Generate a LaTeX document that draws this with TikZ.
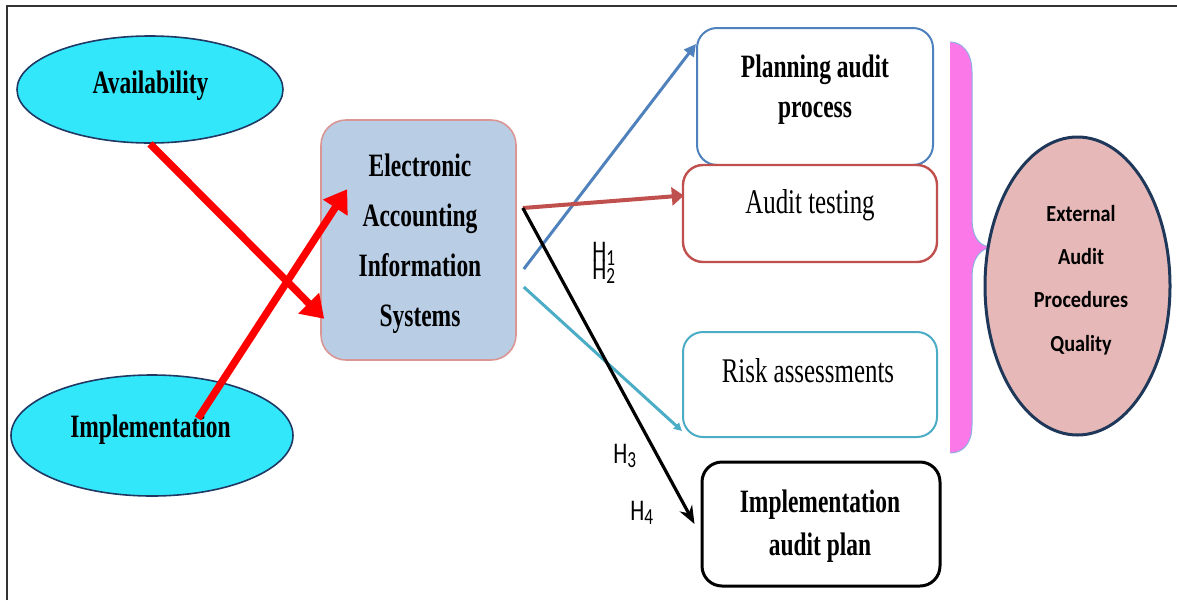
\documentclass[tikz,border=0pt]{standalone}
\usepackage{fontspec}
\usetikzlibrary{arrows.meta,shapes.geometric,calc}
\newfontfamily\tnr[FakeStretch=0.72]{Liberation Serif}
\newfontfamily\cbr[FakeStretch=0.88]{Carlito}
\newfontfamily\cbrn[FakeStretch=0.75]{Carlito}
\newcommand\hsub[1]{\raisebox{-2pt}{\fontsize{11.5}{11.5}\selectfont #1}}
\definecolor{cyanfill}{RGB}{51,231,250}
\definecolor{navy}{RGB}{31,56,100}
\definecolor{eaisfill}{RGB}{185,205,229}
\definecolor{eaisborder}{RGB}{217,150,148}
\definecolor{planblue}{RGB}{79,129,189}
\definecolor{testred}{RGB}{192,80,77}
\definecolor{riskcyan}{RGB}{75,172,198}
\definecolor{bracepink}{RGB}{250,120,232}
\definecolor{braceline}{RGB}{141,179,226}
\definecolor{extfill}{RGB}{230,185,184}
\definecolor{extborder}{RGB}{31,56,90}
\definecolor{framegray}{RGB}{50,50,50}
\begin{document}
\begin{tikzpicture}[x=0.5pt,y=-0.5pt,
  frame/.style={draw=framegray,line width=1pt},
  oval/.style={ellipse,draw=navy,line width=0.8pt,fill=cyanfill,inner sep=0pt},
  rbox/.style={rectangle,rounded corners=10pt,fill=white,inner sep=0pt},
  btxt/.style={font=\tnr\bfseries\fontsize{16.3}{20}\selectfont,align=center,inner sep=0pt},
  rtxt/.style={font=\tnr\fontsize{17.3}{20}\selectfont,align=center,inner sep=0pt},
  etxt/.style={font=\cbr\bfseries\fontsize{11.5}{21.6}\selectfont,align=center,inner sep=0pt},
  hl/.style={font=\cbrn\fontsize{15}{15}\selectfont,inner sep=0pt,anchor=base west},
  redarrow/.style={draw=red,line width=3.7pt,-{Triangle[length=11pt,width=14pt]}},
  bluearrow/.style={draw=planblue,line width=1.5pt,-{Triangle[length=6pt,width=6pt]}},
  brownarrow/.style={draw=testred,line width=2pt,-{Triangle[length=6pt,width=9pt]}},
  blackarrow/.style={draw=black,line width=1.6pt,-{Stealth[length=9pt,width=7pt]}},
  cyanarrow/.style={draw=riskcyan,line width=1.5pt,-{Triangle[length=4pt,width=4pt]}}]
\useasboundingbox (0,0) rectangle (1177,600);
\draw[frame] (7,600) -- (7,6) -- (1177,6);

% left ellipses
\node[oval,minimum width=133pt,minimum height=53.5pt] (avail) at (150,89.5) {};
\node[btxt] (availt) at (150.5,86) {Availability};
\node[oval,minimum width=141pt,minimum height=60.5pt] (impl) at (152,435.5) {};
\node[btxt] (implt) at (150.5,429.5) {Implementation};

% central box
\node[rbox,rounded corners=12.5pt,fill=eaisfill,draw=eaisborder,line width=0.8pt,
      minimum width=97.5pt,minimum height=120pt] (eais) at (418.5,240) {};
\node[btxt,font=\tnr\bfseries\fontsize{16.3}{25}\selectfont] (eaist) at (420,243.5)
  {Electronic\\Accounting\\Information\\Systems};

% right boxes
\node[rbox,draw=planblue,line width=1pt,minimum width=118pt,minimum height=68.5pt] (plan) at (815,96.5) {};
\node[btxt] (plant) at (815,89.5) {Planning audit\\process};
\node[rbox,draw=testred,line width=1.2pt,minimum width=127pt,minimum height=48.5pt] (test) at (810,213.5) {};
\node[rtxt] (testt) at (810,205) {Audit testing};
\node[rbox,draw=riskcyan,line width=1pt,minimum width=127pt,minimum height=52.5pt] (risk) at (810,384.5) {};
\node[rtxt] (riskt) at (808,371) {Risk assessments};
\node[rbox,draw=black,line width=1.5pt,minimum width=119pt,minimum height=62pt] (implan) at (821,524) {};
\node[btxt,font=\tnr\bfseries\fontsize{16.3}{21.5}\selectfont] (implant) at (820,526) {Implementation\\audit plan};

% brace
\path[fill=bracepink] (950,453) -- (950,42)
  .. controls (962,42) and (972,52) .. (972,72) -- (972,218)
  .. controls (972,238) and (980,247) .. (992,247)
  .. controls (980,249) and (972,258) .. (972,278) -- (972,425)
  .. controls (972,445) and (962,453) .. (950,453) -- cycle;
\draw[braceline,line width=0.5pt] (950,42)
  .. controls (962,42) and (972,52) .. (972,72) -- (972,218)
  .. controls (972,238) and (980,247) .. (992,247)
  .. controls (980,249) and (972,258) .. (972,278) -- (972,425)
  .. controls (972,445) and (962,453) .. (950,453);

% outcome ellipse
\node[ellipse,draw=extborder,line width=1.5pt,fill=extfill,inner sep=0pt,
      minimum width=92.5pt,minimum height=149pt] (ext) at (1077.5,286) {};
\node[etxt] (extt) at (1081,280) {External\\Audit\\Procedures\\Quality};

% connectors
\coordinate (hub) at ($(eais.east)+(6,-32)$);
\draw[redarrow] (avail.south) -- ($(eais.south west)+(4,-42)$);
\draw[redarrow] ($(impl.center)+(46,-17)$) -- ($(eais.north west)+(27,70)$);
\draw[bluearrow] ($(eais.east)+(7,29)$) -- ($(plan.north west)+(0,17)$);
\draw[cyanarrow] ($(eais.east)+(7,47)$) -- ($(risk.south west)+(0,-7)$);
\draw[brownarrow] (hub) -- ($(test.west)+(2,-18)$);
\draw[blackarrow] (hub) -- ($(implan.west)+(-6,0)$);

% hypothesis labels
\node[hl] (h1) at (592,261) {H\hsub{1}};
\node[hl] (h2) at (592,279) {H\hsub{2}};
\node[hl] (h3) at (613,463) {H\hsub{3}};
\node[hl] (h4) at (630,520) {H\hsub{4}};
\end{tikzpicture}
\end{document}
